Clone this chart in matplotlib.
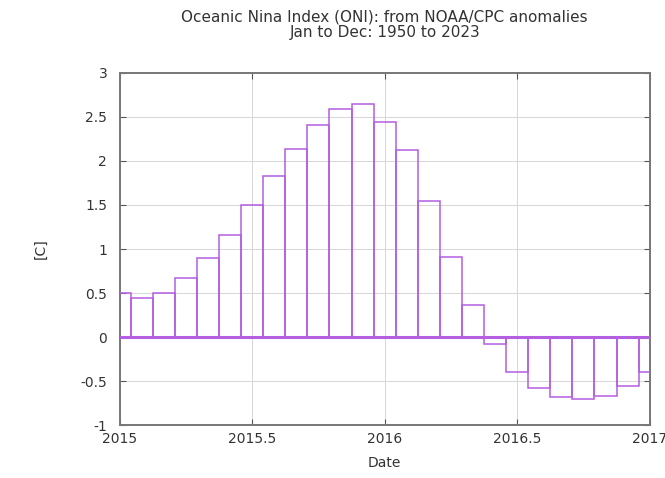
import matplotlib
matplotlib.use("Agg")
import matplotlib.pyplot as plt
import numpy as np

# ONI monthly values (running 3-month means), Jan 2015 .. Jan 2017
months = np.arange(25)  # offset in months from Jan 2015
oni = [0.50, 0.44, 0.50, 0.67, 0.90, 1.16, 1.50, 1.83, 2.14, 2.41, 2.59, 2.65,
       2.44, 2.12, 1.55, 0.91, 0.36, -0.08, -0.39, -0.58, -0.68, -0.70, -0.67, -0.55,
       -0.39]
xticks = [2015, 2015.5, 2016, 2016.5, 2017]
xtick_labels = ["2015", "2015.5", "2016", "2016.5", "2017"]
yticks = [-1, -0.5, 0, 0.5, 1, 1.5, 2, 2.5, 3]
ytick_labels = ["-1", "-0.5", "0", "0.5", "1", "1.5", "2", "2.5", "3"]

t = 2015 + months / 12.0
purple = "#b45ee2"

fig = plt.figure(figsize=(6.65, 4.78), dpi=100)
ax = fig.add_axes([0.180, 0.110, 0.797, 0.738])

ax.bar(t, oni, width=1 / 12, bottom=0, fill=False, edgecolor=purple, linewidth=1.1,
       align="center", zorder=3)
ax.axhline(0, color=purple, lw=2.2, zorder=4)

ax.set_xlim(2015, 2017)
ax.set_ylim(-1, 3)
ax.set_xticks(xticks, xtick_labels)
ax.set_yticks(yticks, ytick_labels)
ax.grid(True, color="#d6d6d6", lw=0.7, zorder=0)
ax.tick_params(direction="in", top=True, right=True, length=4, color="#555555",
               labelsize=10, labelcolor="#333333")
ax.tick_params(axis="x", pad=5)
ax.tick_params(axis="y", pad=9)
for s in ax.spines.values():
    s.set_color("#777777")
    s.set_linewidth(1.4)

ax.set_xlabel("Date", fontsize=10, color="#333333", labelpad=7)
ax.set_ylabel("[C]", fontsize=10, color="#333333", labelpad=24)
ax.set_title("Oceanic Nina Index (ONI): from NOAA/CPC anomalies\nJan to Dec: 1950 to 2023",
             fontsize=11, color="#333333", pad=26, linespacing=1.0)

fig.savefig("out.png", dpi=100)
